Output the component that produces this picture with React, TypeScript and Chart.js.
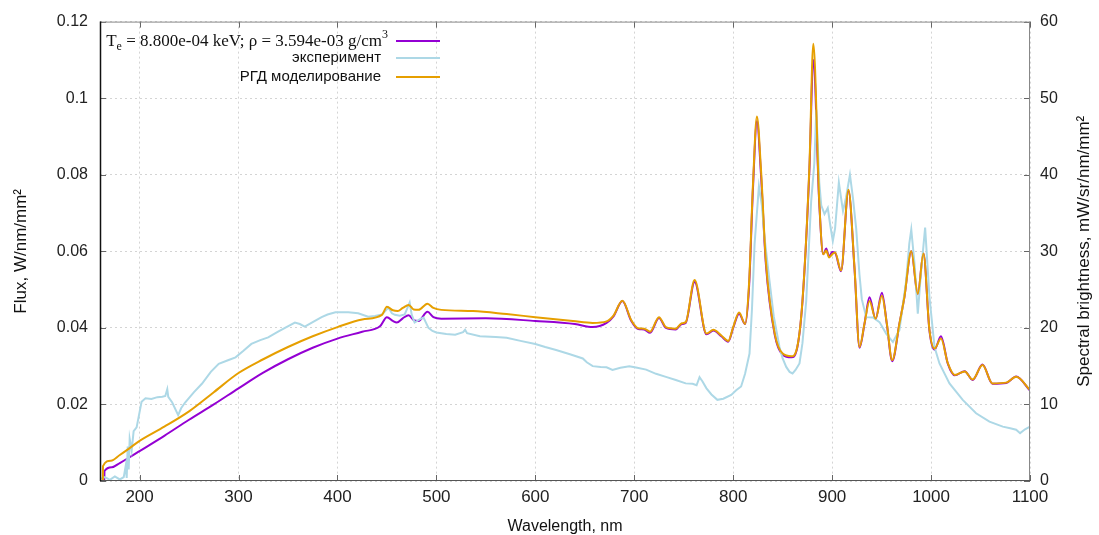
import React, { useEffect, useRef } from "react";
import { Chart, registerables } from "chart.js";

Chart.register(...registerables);

// ---- Data ----
const xTickValues = [200, 300, 400, 500, 600, 700, 800, 900, 1000, 1100];
const fluxTickValues = [0, 0.02, 0.04, 0.06, 0.08, 0.1, 0.12];
const fluxTickLabels = ["0", "0.02", "0.04", "0.06", "0.08", "0.1", "0.12"];
const brightnessTickValues = [0, 10, 20, 30, 40, 50, 60];

const legendLabels = ["эксперимент", "РГД моделирование"];

// T_e model (purple)
const modelWl = [160, 164.4, 164.5, 172, 180, 190, 200, 225, 250, 275, 300, 325, 350, 375, 400, 425, 443, 450, 456, 460, 466, 472, 477, 482, 491, 497, 505, 550, 600, 640, 658, 672, 679, 688, 697, 704, 710, 716, 725, 732, 742, 748, 752, 761, 773, 780, 788, 795, 800, 806, 812, 816, 820, 824, 828, 833, 842, 850, 859, 864, 870, 877, 881, 887, 891, 894, 897, 900, 903, 909, 916.5, 922.6, 927.7, 932.7, 937.8, 943.9, 950.3, 955.3, 960.7, 968, 973, 980, 986.6, 992.3, 998.4, 1003.5, 1010, 1017, 1024, 1034, 1042, 1052, 1062, 1076, 1086, 1100];
const modelFlux = [0, 0, 0.0026, 0.0036, 0.0047, 0.0062, 0.0078, 0.0118, 0.016, 0.02, 0.0242, 0.0283, 0.0318, 0.0348, 0.0372, 0.039, 0.0404, 0.0428, 0.0418, 0.0414, 0.0425, 0.0433, 0.042, 0.0418, 0.0442, 0.0428, 0.0424, 0.0425, 0.0418, 0.041, 0.0402, 0.0413, 0.043, 0.047, 0.0418, 0.0397, 0.0396, 0.0387, 0.0426, 0.04, 0.0396, 0.041, 0.0413, 0.052, 0.0383, 0.0393, 0.0378, 0.0364, 0.04, 0.0437, 0.041, 0.0505, 0.0765, 0.094, 0.0805, 0.0568, 0.0382, 0.033, 0.0323, 0.034, 0.0468, 0.081, 0.11, 0.0725, 0.0592, 0.0607, 0.0586, 0.0598, 0.0596, 0.0548, 0.0758, 0.0555, 0.0348, 0.041, 0.048, 0.0423, 0.0492, 0.041, 0.0313, 0.041, 0.048, 0.06, 0.0488, 0.0594, 0.0392, 0.0343, 0.0378, 0.0306, 0.0276, 0.0287, 0.0264, 0.0304, 0.0254, 0.0256, 0.0273, 0.0236];

// experiment (light blue)
const expWl = [160, 165, 170, 175, 180, 184, 186, 187, 188, 189, 190, 192, 194, 197, 200, 202, 206, 212, 218, 223, 226, 228, 229, 233, 239, 242, 246, 255, 263, 272, 280, 290, 297, 305, 313, 322, 330, 340, 347, 357, 362, 367, 375, 384, 390, 398, 411, 421, 431, 438, 445, 451.5, 455, 458, 463, 468, 473, 475, 478, 483, 487, 492, 496, 500, 510, 519, 527, 529, 531, 544, 560, 571, 585, 600, 610, 621, 635, 648, 652, 658, 666, 672, 678, 686, 695, 703, 712, 722, 732, 742, 752, 759, 763, 766, 769, 773, 778, 784, 790, 798, 803, 808, 812, 816.5, 819, 821.6, 826, 829, 831.7, 836.7, 841, 846.8, 850, 853.6, 857, 860, 863, 867, 870, 873.8, 878.8, 882, 884, 885.5, 887, 889, 892.3, 895.6, 898, 900.7, 903, 906.8, 909, 911, 914, 918, 921, 924.3, 927.6, 930, 934.4, 941.2, 947.9, 954.6, 961.4, 968, 974.8, 978, 980, 983.3, 986.6, 990, 994, 998.4, 1003.5, 1008.5, 1018.6, 1032, 1045.5, 1059, 1072.5, 1080, 1086, 1090, 1095, 1100];
const expFlux = [0.0005, 0.001, 0.0003, 0.0012, 0.0004, 0.001, 0.004, 0.0008, 0.009, 0.003, 0.011, 0.008, 0.013, 0.014, 0.018, 0.0207, 0.0216, 0.0214, 0.0219, 0.022, 0.0222, 0.024, 0.022, 0.0205, 0.0172, 0.019, 0.0205, 0.0232, 0.0254, 0.0285, 0.0306, 0.0316, 0.0323, 0.034, 0.0358, 0.0368, 0.0375, 0.039, 0.04, 0.0414, 0.041, 0.0403, 0.0415, 0.0428, 0.0435, 0.0441, 0.0441, 0.0438, 0.0429, 0.0431, 0.0435, 0.0453, 0.0438, 0.0434, 0.0432, 0.0435, 0.0466, 0.0435, 0.0414, 0.0422, 0.0427, 0.04, 0.0392, 0.0388, 0.0384, 0.0382, 0.0389, 0.0395, 0.0386, 0.0378, 0.0376, 0.0374, 0.0366, 0.0358, 0.035, 0.0342, 0.0331, 0.032, 0.031, 0.03, 0.0298, 0.0297, 0.029, 0.0296, 0.03, 0.0296, 0.0291, 0.028, 0.0272, 0.0264, 0.0255, 0.0254, 0.025, 0.0271, 0.026, 0.0242, 0.0226, 0.0212, 0.0215, 0.0225, 0.0237, 0.0247, 0.028, 0.0333, 0.045, 0.0618, 0.077, 0.072, 0.0636, 0.0523, 0.043, 0.035, 0.032, 0.0298, 0.0285, 0.0281, 0.029, 0.0307, 0.036, 0.047, 0.073, 0.083, 0.097, 0.088, 0.078, 0.072, 0.0697, 0.0713, 0.067, 0.0627, 0.066, 0.078, 0.074, 0.0705, 0.074, 0.08, 0.074, 0.066, 0.054, 0.0475, 0.0428, 0.0427, 0.0415, 0.0385, 0.0363, 0.0394, 0.0523, 0.062, 0.0657, 0.0567, 0.0437, 0.055, 0.0662, 0.048, 0.035, 0.0307, 0.0255, 0.0212, 0.0177, 0.0155, 0.0142, 0.0138, 0.0134, 0.0125, 0.0135, 0.0142];

// RGD modelling (orange)
const rgdWl = [160, 162.9, 163, 171, 180, 190, 200, 225, 250, 275, 300, 325, 350, 375, 400, 425, 445, 450, 456, 461, 466, 472, 477, 482, 491, 497, 505, 537, 571, 600, 638, 658, 672, 679, 688, 697, 704, 710, 716, 725, 732, 742, 748, 752, 761, 773, 780, 788, 795, 800, 806, 812, 816, 820, 824, 828, 833, 842, 850, 859, 864, 870, 877, 881, 887, 891, 894, 897, 900, 903, 909, 916.5, 922.6, 927.7, 932.7, 937.8, 943.9, 950.3, 955.3, 960.7, 968, 973, 980, 986.6, 992.3, 998.4, 1003.5, 1010, 1017, 1024, 1034, 1042, 1052, 1062, 1076, 1086, 1100];
const rgdFlux = [0, 0, 0.0039, 0.0053, 0.0068, 0.0086, 0.0105, 0.0142, 0.0182, 0.0232, 0.0282, 0.0318, 0.035, 0.0378, 0.0402, 0.0422, 0.0434, 0.0455, 0.0446, 0.0444, 0.0452, 0.046, 0.0448, 0.0447, 0.0463, 0.0452, 0.0447, 0.0444, 0.0436, 0.0428, 0.0418, 0.0413, 0.0417, 0.0432, 0.0471, 0.042, 0.0399, 0.0398, 0.039, 0.0428, 0.0402, 0.0398, 0.0412, 0.0415, 0.0525, 0.0385, 0.0395, 0.038, 0.0366, 0.0402, 0.044, 0.041, 0.0515, 0.0775, 0.0952, 0.0818, 0.0575, 0.0385, 0.0333, 0.0326, 0.0342, 0.047, 0.082, 0.1142, 0.073, 0.0592, 0.0602, 0.0584, 0.0592, 0.0597, 0.055, 0.0761, 0.0558, 0.035, 0.0411, 0.047, 0.0424, 0.0484, 0.0411, 0.0316, 0.0411, 0.048, 0.06, 0.0489, 0.0594, 0.0394, 0.0346, 0.0372, 0.0307, 0.0277, 0.0286, 0.0265, 0.0303, 0.0255, 0.0257, 0.0272, 0.0238];

const PURPLE = "#9400d3";
const LIGHTBLUE = "#add8e6";
const ORANGE = "#e69f00";

const SANS = '"Liberation Sans", Arial, sans-serif';
const SERIF = '"Liberation Serif", "Times New Roman", serif';

const toPoints = (xs: number[], ys: number[]) => xs.map((x, i) => ({ x, y: ys[i] }));

const decorPlugin = {
  id: "decor",
  afterDraw(chart: any) {
    const { ctx, chartArea } = chart;
    const { left, right, top, bottom } = chartArea;
    const sx = chart.scales.x;
    const sy = chart.scales.y;
    const sy1 = chart.scales.y1;
    ctx.save();
    const seg = (x1: number, y1: number, x2: number, y2: number) => {
      ctx.beginPath();
      ctx.moveTo(x1, y1);
      ctx.lineTo(x2, y2);
      ctx.stroke();
    };
    // inward ticks
    ctx.lineWidth = 1;
    ctx.strokeStyle = "#666";
    xTickValues.forEach((v) => {
      const x = Math.round(sx.getPixelForValue(v)) + 0.5;
      seg(x, bottom, x, bottom - 6);
      seg(x, top, x, top + 6);
    });
    fluxTickValues.forEach((v) => {
      const y = Math.round(sy.getPixelForValue(v)) + 0.5;
      seg(left, y, left + 6, y);
    });
    brightnessTickValues.forEach((v) => {
      const y = Math.round(sy1.getPixelForValue(v)) + 0.5;
      seg(right, y, right - 6, y);
    });
    // frame
    ctx.strokeStyle = "#888";
    ctx.lineWidth = 1;
    seg(left, top + 0.5, right, top + 0.5);
    seg(right - 0.5, top, right - 0.5, bottom);
    ctx.strokeStyle = "#555";
    seg(left, bottom - 0.5, right, bottom - 0.5);
    ctx.strokeStyle = "#111";
    ctx.lineWidth = 1.5;
    seg(left + 0.5, top, left + 0.5, bottom);

    // legend
    const rows = [41, 58, 77];
    const colors = [PURPLE, LIGHTBLUE, ORANGE];
    ctx.lineWidth = 2;
    rows.forEach((y, i) => {
      ctx.strokeStyle = colors[i];
      seg(396, y, 440, y);
    });
    ctx.fillStyle = "#111";
    ctx.textBaseline = "middle";
    const main = 17;
    const small = 12;
    const parts: { t: string; size: number; dy: number }[] = [
      { t: "T", size: main, dy: 0 },
      { t: "e", size: small, dy: 5 },
      { t: " = 8.800e-04 keV; ρ = 3.594e-03 g/cm", size: main, dy: 0 },
      { t: "3", size: small, dy: -7 },
    ];
    let total = 0;
    parts.forEach((p) => {
      ctx.font = `${p.size}px ${SERIF}`;
      total += ctx.measureText(p.t).width;
    });
    let cx = 388 - total;
    ctx.textAlign = "left";
    parts.forEach((p) => {
      ctx.font = `${p.size}px ${SERIF}`;
      ctx.fillText(p.t, cx, rows[0] + 1 + p.dy);
      cx += ctx.measureText(p.t).width;
    });
    ctx.font = `15px ${SANS}`;
    ctx.textAlign = "right";
    ctx.fillText(legendLabels[0], 381, rows[1]);
    ctx.fillText(legendLabels[1], 381, rows[2]);

    // right axis title (reads bottom to top)
    ctx.save();
    ctx.translate(1084, (top + bottom) / 2);
    ctx.rotate(-Math.PI / 2);
    ctx.textAlign = "center";
    ctx.textBaseline = "middle";
    ctx.font = `17px ${SANS}`;
    ctx.fillStyle = "#111";
    ctx.fillText("Spectral brightness, mW/sr/nm/mm²", 0, 0);
    ctx.restore();

    ctx.restore();
  },
};

export default function App() {
  const canvasRef = useRef<HTMLCanvasElement | null>(null);

  useEffect(() => {
    document.body.style.margin = "0";
    const canvas = canvasRef.current;
    if (!canvas) return;
    const gridColor = "#d4d4d4";
    const chart = new Chart(canvas, {
      type: "line",
      data: {
        datasets: [
          {
            label: "РГД моделирование",
            data: toPoints(rgdWl, rgdFlux),
            borderColor: ORANGE,
            borderWidth: 2,
            pointRadius: 0,
            cubicInterpolationMode: "monotone",
            order: 0,
            yAxisID: "y",
          },
          {
            label: "эксперимент",
            data: toPoints(expWl, expFlux),
            borderColor: LIGHTBLUE,
            borderWidth: 2,
            pointRadius: 0,
            tension: 0,
            order: 1,
            yAxisID: "y",
          },
          {
            label: "T_e model",
            data: toPoints(modelWl, modelFlux),
            borderColor: PURPLE,
            borderWidth: 2,
            pointRadius: 0,
            cubicInterpolationMode: "monotone",
            order: 2,
            yAxisID: "y",
          },
        ],
      },
      options: {
        responsive: false,
        animation: false,
        devicePixelRatio: 1,
        layout: { padding: { top: 20, left: 0, right: 0, bottom: 0 } },
        plugins: { legend: { display: false }, tooltip: { enabled: false } },
        scales: {
          x: {
            type: "linear",
            min: 160,
            max: 1100,
            afterBuildTicks: (s: any) => {
              s.ticks = xTickValues.map((v) => ({ value: v }));
            },
            afterFit: (s: any) => {
              s.height = 54;
            },
            ticks: {
              color: "#222",
              font: { family: SANS, size: 17 },
              padding: 6,
              maxRotation: 0,
              autoSkip: false,
              callback: (v: any) => String(v),
            },
            grid: { color: gridColor, drawTicks: false, lineWidth: 1 },
            border: { display: false, dash: [2, 3] },
            title: {
              display: true,
              text: "Wavelength, nm",
              color: "#111",
              font: { family: SANS, size: 16, lineHeight: 1 },
              padding: { top: 0, bottom: 0 },
            },
          },
          y: {
            type: "linear",
            position: "left",
            min: 0,
            max: 0.12,
            afterBuildTicks: (s: any) => {
              s.ticks = fluxTickValues.map((v) => ({ value: v }));
            },
            afterFit: (s: any) => {
              s.width = 100;
            },
            ticks: {
              color: "#222",
              font: { family: SANS, size: 16 },
              padding: 12,
              autoSkip: false,
              callback: (_v: any, i: number) => fluxTickLabels[i],
            },
            grid: { color: gridColor, drawTicks: false, lineWidth: 1 },
            border: { display: false, dash: [2, 3] },
            title: {
              display: true,
              text: "Flux, W/nm/mm²",
              color: "#111",
              font: { family: SANS, size: 17, lineHeight: 1 },
              padding: { top: 13, bottom: 0 },
            },
          },
          y1: {
            type: "linear",
            position: "right",
            min: 0,
            max: 60,
            afterBuildTicks: (s: any) => {
              s.ticks = brightnessTickValues.map((v) => ({ value: v }));
            },
            afterFit: (s: any) => {
              s.width = 69;
            },
            ticks: {
              color: "#222",
              font: { family: SANS, size: 16 },
              padding: 10,
              autoSkip: false,
              callback: (v: any) => String(v),
            },
            grid: { drawOnChartArea: false, drawTicks: false },
            border: { display: false },
          },
        },
      },
      plugins: [decorPlugin],
    } as any);
    return () => chart.destroy();
  }, []);

  return (
    <div style={{ width: 1099, height: 535, background: "#fff" }}>
      <canvas ref={canvasRef} width={1099} height={535} style={{ display: "block" }} />
    </div>
  );
}
